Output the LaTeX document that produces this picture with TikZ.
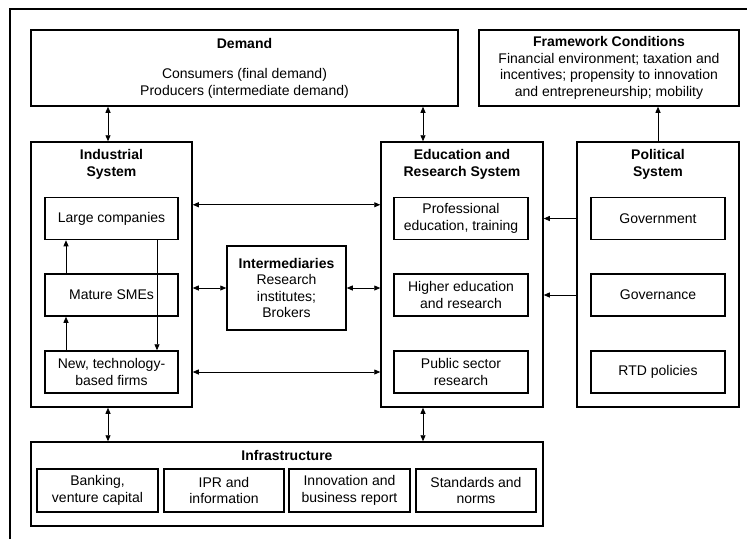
\documentclass[tikz,border=0pt]{standalone}
\usepackage{fontspec}
\setmainfont{Liberation Sans}
\usetikzlibrary{arrows.meta,calc,positioning}

\newcommand{\diagfont}{\fontsize{14}{16.5}\selectfont}

\tikzset{
  sysbox/.style={draw, line width=1.5pt, inner sep=0pt, align=center},
  subbox/.style={draw, line width=1.5pt, inner sep=0pt, align=center,
    minimum width=133pt, minimum height=42pt},
  infrabox/.style={subbox, minimum width=120pt, minimum height=43pt},
  boxtitle/.style={anchor=north, inner sep=0pt, align=center, font=\diagfont\bfseries},
  link/.style={line width=0.8pt, {Triangle[length=6pt,width=5pt]}-{Triangle[length=6pt,width=5pt]}},
  push/.style={line width=0.8pt, -{Triangle[length=6pt,width=5pt]}},
}

\begin{document}
\begin{tikzpicture}[x=1pt,y=-1pt,font=\diagfont]
  \useasboundingbox (0,0) rectangle (747,539);
  \draw[line width=1.5pt] (10,539) -- (10,9) -- (747,9);

  % top row
  \node[sysbox, minimum width=427pt, minimum height=76pt] (demand) at (244.5,68)
    {\textbf{Demand}\\[14pt]Consumers (final demand)\\Producers (intermediate demand)};
  \node[sysbox, minimum width=260pt, minimum height=76pt] (framework) at (609,68)
    {\textbf{Framework Conditions}\\Financial environment; taxation and\\incentives; propensity to innovation\\and entrepreneurship; mobility};

  % the three systems
  \node[sysbox, minimum width=161pt, minimum height=265pt] (indsys) at (111.5,274.5) {};
  \node[boxtitle] at ([yshift=-8pt]indsys.north) {Industrial\\System};
  \node[sysbox, minimum width=162pt, minimum height=265pt] (edusys) at (462,274.5) {};
  \node[boxtitle] at ([yshift=-8pt]edusys.north) {Education and\\Research System};
  \node[sysbox, minimum width=162pt, minimum height=265pt] (polsys) at (658,274.5) {};
  \node[boxtitle] at ([yshift=-8pt]polsys.north) {Political\\System};

  \node[subbox] (large) at (111.5,218.5) {Large companies};
  \node[subbox] (mature) at (111.5,295) {Mature SMEs};
  \node[subbox] (newfirms) at (111.5,372) {New, technology-\\based firms};

  \node[subbox, minimum width=134pt] (profedu) at (461,218.5) {Professional\\education, training};
  \node[subbox, minimum width=134pt] (higheredu) at (461,295) {Higher education\\and research};
  \node[subbox, minimum width=134pt] (public) at (461,372) {Public sector\\research};

  \node[subbox, minimum width=134pt] (gov) at (658,218.5) {Government};
  \node[subbox, minimum width=134pt] (governance) at (658,295) {Governance};
  \node[subbox, minimum width=134pt] (rtd) at (658,372) {RTD policies};

  \node[sysbox, minimum width=119pt, minimum height=84pt] (inter) at (286.5,288)
    {\textbf{Intermediaries}\\Research\\institutes;\\Brokers};

  % infrastructure
  \node[sysbox, minimum width=512pt, minimum height=84pt] (infra) at (287,484) {};
  \node[boxtitle] at ([yshift=-9pt]infra.north) {Infrastructure};
  \node[infrabox, minimum width=121pt] (banking) at (97.5,490.5) {Banking,\\venture capital};
  \node[infrabox] (ipr) at (224,490.5) {IPR and\\information};
  \node[infrabox, minimum width=121pt] (innov) at (349.5,490.5) {Innovation and\\business report};
  \node[infrabox] (standards) at (476,490.5) {Standards and\\norms};

  % links
  \draw[link] ([xshift=-3.5pt]indsys.north) -- ([xshift=-3.5pt]indsys.north |- demand.south);
  \draw[link] ([xshift=-39pt]edusys.north) -- ([xshift=-39pt]edusys.north |- demand.south);
  \draw[push] (polsys.north) -- (polsys.north |- framework.south);
  \draw[link] ([yshift=-8pt]large.north -| indsys.east) -- ([yshift=-8pt]large.north -| edusys.west);
  \draw[link] (inter.west -| indsys.east) -- (inter.west);
  \draw[link] (inter.east) -- (inter.east -| edusys.west);
  \draw[link] (newfirms.east -| indsys.east) -- (newfirms.east -| edusys.west);
  \draw[push] (gov.west -| polsys.west) -- (gov.west -| edusys.east);
  \draw[push] (governance.west -| polsys.west) -- (governance.west -| edusys.east);
  \draw[link] ([xshift=-3.5pt]indsys.south) -- ([xshift=-3.5pt]indsys.south |- infra.north);
  \draw[link] ([xshift=-39pt]edusys.south) -- ([xshift=-39pt]edusys.south |- infra.north);

  % within the industrial system
  \draw[push] ([xshift=-45.5pt]newfirms.north) -- ([xshift=-45.5pt]mature.south);
  \draw[push] ([xshift=-45.5pt]mature.north) -- ([xshift=-45.5pt]large.south);
  \draw[push] ([xshift=45.5pt]large.south) -- ([xshift=45.5pt]newfirms.north);
\end{tikzpicture}
\end{document}
